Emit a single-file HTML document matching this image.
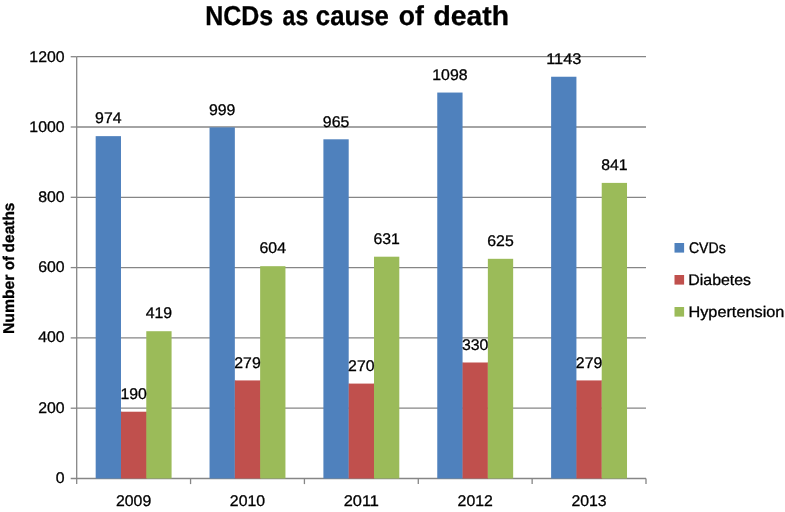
<!DOCTYPE html>
<html><head><meta charset="utf-8"><title>NCDs as cause of death</title>
<style>html,body{margin:0;padding:0;background:#fff;}body{width:785px;height:512px;overflow:hidden;}svg{display:block;will-change:transform;}text{font-family:"Liberation Sans",sans-serif;fill:#000;text-rendering:geometricPrecision;stroke:#000;stroke-width:0.3px;}</style>
</head><body>
<svg width="785" height="512" viewBox="0 0 785 512">
<rect x="0" y="0" width="785" height="512" fill="#ffffff"/>
<line x1="76.70" y1="408.20" x2="646.00" y2="408.20" stroke="#868686" stroke-width="1.3"/>
<line x1="76.70" y1="337.90" x2="646.00" y2="337.90" stroke="#868686" stroke-width="1.3"/>
<line x1="76.70" y1="267.60" x2="646.00" y2="267.60" stroke="#868686" stroke-width="1.3"/>
<line x1="76.70" y1="197.30" x2="646.00" y2="197.30" stroke="#868686" stroke-width="1.3"/>
<line x1="76.70" y1="127.00" x2="646.00" y2="127.00" stroke="#868686" stroke-width="1.3"/>
<line x1="76.70" y1="56.70" x2="646.00" y2="56.70" stroke="#868686" stroke-width="1.3"/>
<line x1="76.70" y1="56.70" x2="76.70" y2="484.10" stroke="#868686" stroke-width="1.3"/>
<line x1="70.70" y1="478.50" x2="646.00" y2="478.50" stroke="#868686" stroke-width="1.3"/>
<rect x="120.78" y="411.71" width="0.9" height="66.79" fill="#4F81BD"/>
<rect x="95.68" y="136.14" width="25.30" height="342.36" fill="#4F81BD"/>
<rect x="146.08" y="411.71" width="0.9" height="66.79" fill="#C0504D"/>
<rect x="120.98" y="411.71" width="25.30" height="66.79" fill="#C0504D"/>
<rect x="146.28" y="331.22" width="25.30" height="147.28" fill="#9BBB59"/>
<rect x="234.64" y="380.43" width="0.9" height="98.07" fill="#4F81BD"/>
<rect x="209.54" y="127.35" width="25.30" height="351.15" fill="#4F81BD"/>
<rect x="259.94" y="380.43" width="0.9" height="98.07" fill="#C0504D"/>
<rect x="234.84" y="380.43" width="25.30" height="98.07" fill="#C0504D"/>
<rect x="260.14" y="266.19" width="25.30" height="212.31" fill="#9BBB59"/>
<rect x="348.50" y="383.59" width="0.9" height="94.91" fill="#4F81BD"/>
<rect x="323.40" y="139.30" width="25.30" height="339.20" fill="#4F81BD"/>
<rect x="373.80" y="383.59" width="0.9" height="94.91" fill="#C0504D"/>
<rect x="348.70" y="383.59" width="25.30" height="94.91" fill="#C0504D"/>
<rect x="374.00" y="256.70" width="25.30" height="221.80" fill="#9BBB59"/>
<rect x="462.36" y="362.50" width="0.9" height="116.00" fill="#4F81BD"/>
<rect x="437.26" y="92.55" width="25.30" height="385.95" fill="#4F81BD"/>
<rect x="487.66" y="362.50" width="0.9" height="116.00" fill="#C0504D"/>
<rect x="462.56" y="362.50" width="25.30" height="116.00" fill="#C0504D"/>
<rect x="487.86" y="258.81" width="25.30" height="219.69" fill="#9BBB59"/>
<rect x="576.22" y="380.43" width="0.9" height="98.07" fill="#4F81BD"/>
<rect x="551.12" y="76.74" width="25.30" height="401.76" fill="#4F81BD"/>
<rect x="601.52" y="380.43" width="0.9" height="98.07" fill="#C0504D"/>
<rect x="576.42" y="380.43" width="25.30" height="98.07" fill="#C0504D"/>
<rect x="601.72" y="182.89" width="25.30" height="295.61" fill="#9BBB59"/>
<line x1="70.70" y1="408.20" x2="76.70" y2="408.20" stroke="#868686" stroke-width="1.3"/>
<line x1="70.70" y1="337.90" x2="76.70" y2="337.90" stroke="#868686" stroke-width="1.3"/>
<line x1="70.70" y1="267.60" x2="76.70" y2="267.60" stroke="#868686" stroke-width="1.3"/>
<line x1="70.70" y1="197.30" x2="76.70" y2="197.30" stroke="#868686" stroke-width="1.3"/>
<line x1="70.70" y1="127.00" x2="76.70" y2="127.00" stroke="#868686" stroke-width="1.3"/>
<line x1="70.70" y1="56.70" x2="76.70" y2="56.70" stroke="#868686" stroke-width="1.3"/>
<line x1="190.56" y1="478.50" x2="190.56" y2="484.10" stroke="#868686" stroke-width="1.3"/>
<line x1="304.42" y1="478.50" x2="304.42" y2="484.10" stroke="#868686" stroke-width="1.3"/>
<line x1="418.28" y1="478.50" x2="418.28" y2="484.10" stroke="#868686" stroke-width="1.3"/>
<line x1="532.14" y1="478.50" x2="532.14" y2="484.10" stroke="#868686" stroke-width="1.3"/>
<line x1="646.00" y1="478.50" x2="646.00" y2="484.10" stroke="#868686" stroke-width="1.3"/>
<text x="64.6" y="482.80" font-size="15.4" text-anchor="end" textLength="8.81" lengthAdjust="spacingAndGlyphs">0</text>
<text x="64.6" y="412.62" font-size="15.4" text-anchor="end" textLength="26.43" lengthAdjust="spacingAndGlyphs">200</text>
<text x="64.6" y="342.43" font-size="15.4" text-anchor="end" textLength="26.43" lengthAdjust="spacingAndGlyphs">400</text>
<text x="64.6" y="272.25" font-size="15.4" text-anchor="end" textLength="26.43" lengthAdjust="spacingAndGlyphs">600</text>
<text x="64.6" y="202.07" font-size="15.4" text-anchor="end" textLength="26.43" lengthAdjust="spacingAndGlyphs">800</text>
<text x="64.6" y="131.88" font-size="15.4" text-anchor="end" textLength="35.24" lengthAdjust="spacingAndGlyphs">1000</text>
<text x="64.6" y="61.70" font-size="15.4" text-anchor="end" textLength="35.24" lengthAdjust="spacingAndGlyphs">1200</text>
<text x="133.63" y="505.8" font-size="15.4" text-anchor="middle" textLength="35.24" lengthAdjust="spacingAndGlyphs">2009</text>
<text x="247.49" y="505.8" font-size="15.4" text-anchor="middle" textLength="35.24" lengthAdjust="spacingAndGlyphs">2010</text>
<text x="361.35" y="505.8" font-size="15.4" text-anchor="middle" textLength="35.24" lengthAdjust="spacingAndGlyphs">2011</text>
<text x="475.21" y="505.8" font-size="15.4" text-anchor="middle" textLength="35.24" lengthAdjust="spacingAndGlyphs">2012</text>
<text x="589.07" y="505.8" font-size="15.4" text-anchor="middle" textLength="35.24" lengthAdjust="spacingAndGlyphs">2013</text>
<text x="108.33" y="123.34" font-size="15.4" text-anchor="middle" textLength="26.43" lengthAdjust="spacingAndGlyphs">974</text>
<text x="133.63" y="398.91" font-size="15.4" text-anchor="middle" textLength="26.43" lengthAdjust="spacingAndGlyphs">190</text>
<text x="158.93" y="318.42" font-size="15.4" text-anchor="middle" textLength="26.43" lengthAdjust="spacingAndGlyphs">419</text>
<text x="222.19" y="114.55" font-size="15.4" text-anchor="middle" textLength="26.43" lengthAdjust="spacingAndGlyphs">999</text>
<text x="247.49" y="367.63" font-size="15.4" text-anchor="middle" textLength="26.43" lengthAdjust="spacingAndGlyphs">279</text>
<text x="272.79" y="253.39" font-size="15.4" text-anchor="middle" textLength="26.43" lengthAdjust="spacingAndGlyphs">604</text>
<text x="336.05" y="126.50" font-size="15.4" text-anchor="middle" textLength="26.43" lengthAdjust="spacingAndGlyphs">965</text>
<text x="361.35" y="370.79" font-size="15.4" text-anchor="middle" textLength="26.43" lengthAdjust="spacingAndGlyphs">270</text>
<text x="386.65" y="243.90" font-size="15.4" text-anchor="middle" textLength="26.43" lengthAdjust="spacingAndGlyphs">631</text>
<text x="449.91" y="79.75" font-size="15.4" text-anchor="middle" textLength="35.24" lengthAdjust="spacingAndGlyphs">1098</text>
<text x="475.21" y="349.70" font-size="15.4" text-anchor="middle" textLength="26.43" lengthAdjust="spacingAndGlyphs">330</text>
<text x="500.51" y="246.01" font-size="15.4" text-anchor="middle" textLength="26.43" lengthAdjust="spacingAndGlyphs">625</text>
<text x="563.77" y="63.94" font-size="15.4" text-anchor="middle" textLength="35.24" lengthAdjust="spacingAndGlyphs">1143</text>
<text x="589.07" y="367.63" font-size="15.4" text-anchor="middle" textLength="26.43" lengthAdjust="spacingAndGlyphs">279</text>
<text x="614.37" y="170.09" font-size="15.4" text-anchor="middle" textLength="26.43" lengthAdjust="spacingAndGlyphs">841</text>
<text x="205.19" y="25.3" font-size="27.4" font-weight="bold" stroke-width="0.7" textLength="68.03" lengthAdjust="spacingAndGlyphs">NCDs</text>
<text x="282.6" y="25.3" font-size="27.4" font-weight="bold" stroke-width="0.7" textLength="25.6" lengthAdjust="spacingAndGlyphs">as</text>
<text x="315.86" y="25.3" font-size="27.4" font-weight="bold" stroke-width="0.7" textLength="72.96" lengthAdjust="spacingAndGlyphs">cause</text>
<text x="398.83" y="25.3" font-size="27.4" font-weight="bold" stroke-width="0.7" textLength="25.12" lengthAdjust="spacingAndGlyphs">of</text>
<text x="433.47" y="25.3" font-size="27.4" font-weight="bold" stroke-width="0.7" textLength="75.59" lengthAdjust="spacingAndGlyphs">death</text>
<g transform="translate(14.35,333) rotate(-90)" font-size="15.6" font-weight="bold" stroke-width="0.4">
<text x="-1.01" y="0" textLength="59.48" lengthAdjust="spacingAndGlyphs">Number</text>
<text x="63.0" y="0" textLength="13.84" lengthAdjust="spacingAndGlyphs">of</text>
<text x="80.6" y="0" textLength="49.88" lengthAdjust="spacingAndGlyphs">deaths</text>
</g>
<rect x="674.5" y="243.0" width="9.6" height="9.6" fill="#4F81BD"/>
<text x="688.9" y="252.7" font-size="15.4" textLength="36.8" lengthAdjust="spacingAndGlyphs">CVDs</text>
<rect x="674.5" y="275.0" width="9.6" height="9.6" fill="#C0504D"/>
<text x="688.28" y="284.7" font-size="15.4" textLength="62.8" lengthAdjust="spacingAndGlyphs">Diabetes</text>
<rect x="674.5" y="307.0" width="9.6" height="9.6" fill="#9BBB59"/>
<text x="688.45" y="316.7" font-size="15.4" textLength="95.95" lengthAdjust="spacingAndGlyphs">Hypertension</text>
</svg></body></html>
